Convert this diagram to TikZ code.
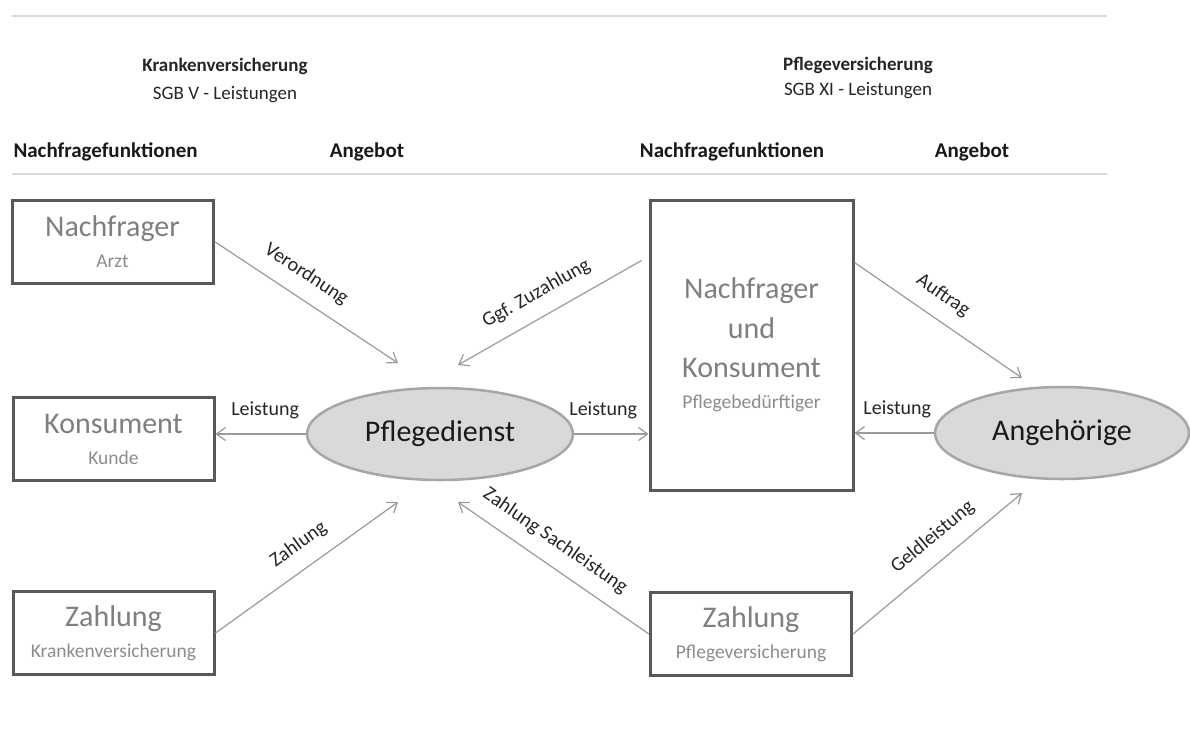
\documentclass[tikz,border=0pt]{standalone}
\usepackage{fontspec}
\setmainfont{Carlito}
\usetikzlibrary{arrows.meta,shapes.geometric,positioning}

\definecolor{boxline}{HTML}{595959}
\definecolor{roletext}{HTML}{7F7F7F}
\definecolor{subtext}{HTML}{8C8C8C}
\definecolor{ellfill}{HTML}{D9D9D9}
\definecolor{ellline}{HTML}{A6A6A6}
\definecolor{arrowgray}{HTML}{9A9A9A}
\definecolor{rulegray}{HTML}{D9D9D9}

\newcommand{\subfont}{\fontsize{19.5}{31}\selectfont\color{subtext}}

\tikzset{
  rolebox/.style={draw=boxline, line width=3pt, minimum width=201pt, minimum height=83pt,
    inner sep=0pt, align=center, text=roletext, font=\fontsize{30}{31}\selectfont},
  actor/.style={ellipse, draw=ellline, fill=ellfill, line width=2.5pt, inner sep=0pt,
    font=\fontsize{30}{36}\selectfont, text=black!90},
  flow/.style={draw=arrowgray, line width=1.2pt, -{Straight Barb[length=9pt,width=13pt]}},
  flowlabel/.style={sloped, above=14pt, inner sep=0pt, font=\fontsize{20}{22}\selectfont, text=black!85},
  head/.style={font=\fontsize{21}{24}\selectfont\bfseries, text=black!90},
  title/.style={align=center, font=\fontsize{19}{28}\selectfont, text=black!85}
}

\begin{document}
\begin{tikzpicture}[x=1pt, y=-1pt]
\useasboundingbox[fill=white] (0,0) rectangle (1190,742);

% titles and column heads
\draw[rulegray, line width=1.5pt] (12,16) -- (1107,16);
\node[title] (kv) at (225,80) {\textbf{Krankenversicherung}\\SGB V - Leistungen};
\node[title] (pv) at (858,78) {\textbf{Pflegeversicherung}\\[-3pt]SGB XI - Leistungen};
\node[head, anchor=west] (nfl) at (10,152) {Nachfragefunktionen};
\node[head] (anl) at (367,152) {Angebot};
\node[head] (nfr) at (732,152) {Nachfragefunktionen};
\node[head] (anr) at (972,152) {Angebot};
\draw[rulegray, line width=1.5pt] (12,174) -- (1107,174);

% left side (SGB V)
\node[rolebox] (arzt) at (112.5,241.5) {Nachfrager\\{\subfont Arzt}};
\node[rolebox] (kunde) at (113.5,439) {Konsument\\{\subfont Kunde}};
\node[rolebox] (zkv) at (113.5,633) {Zahlung\\{\subfont Krankenversicherung}};
\node[actor, minimum width=266pt, minimum height=92pt] (pd) at (440,434) {Pflegedienst};

% right side (SGB XI)
\node[rolebox, minimum width=203pt, minimum height=290pt, font=\fontsize{30}{39.5}\selectfont]
  (pb) at (751.5,345) {Nachfrager\\und\\Konsument\\[-9pt]{\subfont Pflegebedürftiger}};
\node[rolebox] (zpv) at (751,634) {Zahlung\\{\subfont Pflegeversicherung}};
\node[actor, minimum width=254pt, minimum height=92pt] (ang) at (1062,433) {Angehörige};

% free arrow ends near the ellipses
\coordinate (pdnw) at ([shift={(-42,-71)}]pd.center);
\coordinate (pdne) at ([shift={(18,-69)}]pd.center);
\coordinate (pdsw) at ([shift={(-42,68)}]pd.center);
\coordinate (pdse) at ([shift={(18,68)}]pd.center);
\coordinate (angnw) at ([shift={(-40,-55)}]ang.center);
\coordinate (angsw) at ([shift={(-40,60)}]ang.center);

% flows
\draw[flow] (arzt.east) -- node[flowlabel, pos=0.43] {Verordnung} (pdnw);
\draw[flow] (pd.west) -- node[flowlabel, pos=0.45] {Leistung} (pd.west -| kunde.east);
\draw[flow] (zkv.east) -- node[flowlabel, pos=0.53] {Zahlung} (pdsw);
\draw[flow] ([shift={(-7,62)}]pb.north west) -- node[flowlabel, pos=0.51] {Ggf. Zuzahlung} (pdne);
\draw[flow] (pd.east) -- node[flowlabel, pos=0.39] {Leistung} (pd.east -| pb.west);
\draw[flow] (zpv.west) -- node[flowlabel, pos=0.56] {Zahlung Sachleistung} (pdse);
\draw[flow] ([shift={(0,64)}]pb.north east) -- node[flowlabel, pos=0.45] {Auftrag} (angnw);
\draw[flow] (ang.west) -- node[flowlabel, pos=0.46] {Leistung} (ang.west -| pb.east);
\draw[flow] (zpv.east) -- node[flowlabel, pos=0.56] {Geldleistung} (angsw);
\end{tikzpicture}
\end{document}
